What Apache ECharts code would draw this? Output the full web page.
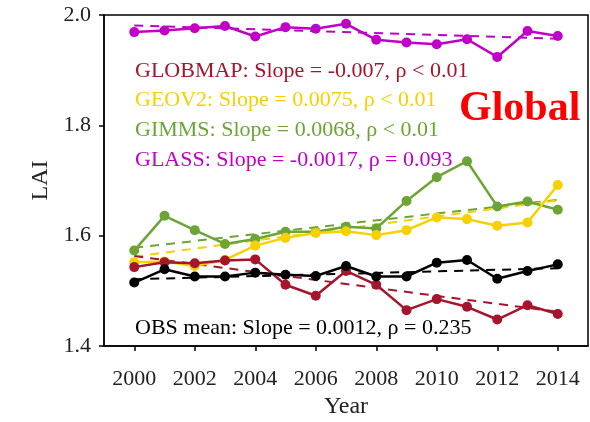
<!DOCTYPE html>
<html>
<head>
<meta charset="utf-8">
<script src="https://cdn.jsdelivr.net/npm/echarts@6/dist/echarts.min.js"></script>
<style>html,body{margin:0;padding:0;background:#fff}#c{width:590px;height:422px}</style>
</head>
<body>
<div id="c"></div>
<script>
var years = [2000,2001,2002,2003,2004,2005,2006,2007,2008,2009,2010,2011,2012,2013,2014];
var tickYears = [2000,2002,2004,2006,2008,2010,2012,2014];
var glass   = [1.969,1.972,1.976,1.980,1.961,1.978,1.975,1.984,1.955,1.950,1.947,1.956,1.924,1.971,1.962];
var gimms   = [1.573,1.636,1.610,1.585,1.594,1.607,1.607,1.616,1.613,1.663,1.706,1.735,1.653,1.662,1.647];
var geov2   = [1.552,1.553,1.545,1.556,1.582,1.596,1.605,1.608,1.601,1.610,1.633,1.630,1.618,1.624,1.692];
var globmap = [1.543,1.552,1.550,1.555,1.557,1.511,1.491,1.536,1.511,1.465,1.485,1.471,1.448,1.474,1.458];
var obs     = [1.515,1.539,1.526,1.526,1.533,1.529,1.527,1.545,1.526,1.526,1.551,1.556,1.522,1.536,1.548];
// trend line end values (2000, 2014)
var trendYears = [2000, 2014];
var glassTrend   = [1.981, 1.957];
var gimmsTrend   = [1.578, 1.665];
var geov2Trend   = [1.562, 1.664];
var globmapTrend = [1.563, 1.462];
var obsTrend     = [1.521, 1.541];
var labels = [
  {text:'GLOBMAP: Slope = -0.007, \u03c1 < 0.01', color:'#A3162C'},
  {text:'GEOV2: Slope = 0.0075, \u03c1 < 0.01', color:'#F7D000'},
  {text:'GIMMS: Slope = 0.0068, \u03c1 < 0.01', color:'#6CA535'},
  {text:'GLASS: Slope = -0.0017, \u03c1 = 0.093', color:'#C000C8'}
];
var obsLabel = 'OBS mean: Slope = 0.0012, \u03c1 = 0.235';

function pairs(xs, ys){ return xs.map(function(x,i){return [x, ys[i]];}); }
var FONT = '"Liberation Serif","Times New Roman",serif';
function lineSeries(name, vals, color, z){
  return {name:name, type:'line', data:pairs(years, vals), symbol:'circle', symbolSize:10,
    lineStyle:{color:color, width:2.5}, itemStyle:{color:color}, z:z, animation:false};
}
function trendSeries(name, vals, color, z){
  return {name:name+' trend', type:'line', data:pairs(trendYears, vals), symbol:'none',
    lineStyle:{color:color, width:2, type:[9,7]}, z:z, animation:false};
}
var graphics = labels.map(function(l, i){
  return {type:'text', left:135, top:60 + i*29.7, style:{text:l.text, fill:l.color, font:'22px '+FONT}};
});
graphics.push({type:'text', left:135, top:317, style:{text:obsLabel, fill:'#000', font:'22px '+FONT}});
graphics.push({type:'text', left:459, top:88, style:{text:'Global', fill:'#FF0000', font:'bold 42px '+FONT}});

var chart = echarts.init(document.getElementById('c'), null, {renderer:'canvas'});
chart.setOption({
  animation:false,
  grid:{left:104, right:2, top:15, bottom:76, show:true, borderColor:'#000', borderWidth:1.5,
    containLabel:false, outerBoundsMode:'none'},
  xAxis:{type:'value', min:1999, max:2015,
    name:'Year', nameLocation:'middle', nameGap:49, nameTextStyle:{fontFamily:FONT, fontSize:24, color:'#222'},
    axisLine:{show:true, lineStyle:{color:'#000', width:1.5}},
    axisTick:{show:true, length:5, inside:false, customValues:tickYears, lineStyle:{color:'#000', width:1.5}},
    axisLabel:{customValues:tickYears, fontFamily:FONT, fontSize:22, color:'#222', margin:22,
      formatter:function(v){return String(v);}},
    splitLine:{show:false}},
  yAxis:{type:'value', min:1.4, max:2.0, interval:0.2,
    name:'LAI', nameLocation:'middle', nameGap:47, nameRotate:90, nameTextStyle:{fontFamily:FONT, fontSize:24, color:'#222'},
    axisLine:{show:true, lineStyle:{color:'#000', width:1.5}},
    axisTick:{show:true, length:5, inside:false, lineStyle:{color:'#000', width:1.5}},
    axisLabel:{fontFamily:FONT, fontSize:22, color:'#222', margin:13, formatter:function(v){return v.toFixed(1);}},
    splitLine:{show:false}},
  series:[
    trendSeries('GLASS', glassTrend, '#C000C8', 1),
    trendSeries('GIMMS', gimmsTrend, '#6CA535', 1),
    trendSeries('GEOV2', geov2Trend, '#F7D000', 1),
    trendSeries('GLOBMAP', globmapTrend, '#A3162C', 1),
    trendSeries('OBS', obsTrend, '#000000', 1),
    lineSeries('GLASS', glass, '#C000C8', 2),
    lineSeries('GIMMS', gimms, '#6CA535', 2),
    lineSeries('GEOV2', geov2, '#F7D000', 3),
    lineSeries('GLOBMAP', globmap, '#A3162C', 4),
    lineSeries('OBS', obs, '#000000', 5)
  ],
  graphic:graphics
});
</script>
</body>
</html>
